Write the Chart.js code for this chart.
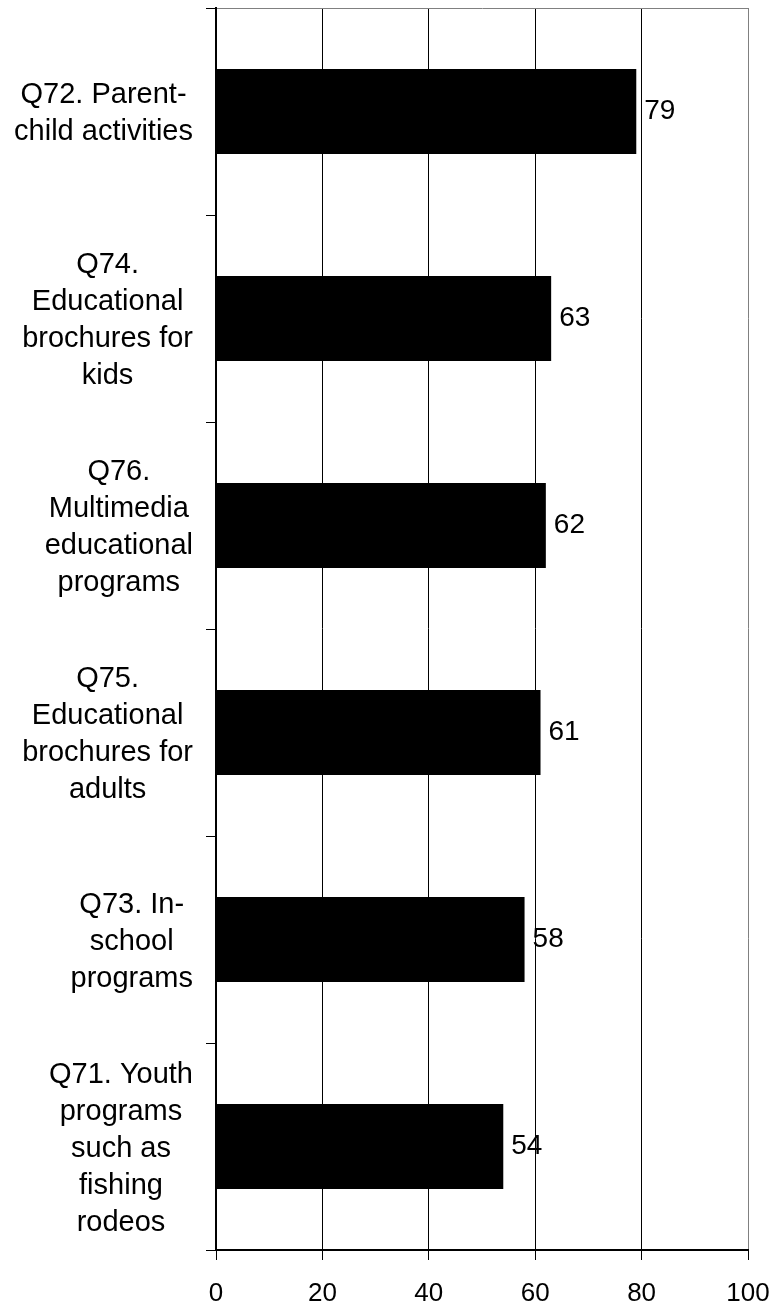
<!DOCTYPE html>
<html>
<head>
<meta charset="utf-8">
<script src="https://cdn.jsdelivr.net/npm/chart.js@4/dist/chart.umd.min.js"></script>
<style>
  html, body { margin: 0; padding: 0; background: #fff; }
  #wrap { width: 775px; height: 1306px; position: relative; }
</style>
</head>
<body>
<div id="wrap"><canvas id="chart"></canvas></div>
<script>
const categories = [
  ['Q72. Parent-', 'child activities'],
  ['Q74.', 'Educational', 'brochures for', 'kids'],
  ['Q76.', 'Multimedia', 'educational', 'programs'],
  ['Q75.', 'Educational', 'brochures for', 'adults'],
  ['Q73. In-', 'school', 'programs'],
  ['Q71. Youth', 'programs', 'such as', 'fishing', 'rodeos']
];
const values = [79, 63, 62, 61, 58, 54];
const xMin = 0;
const xMax = 100;
const xStep = 20;

const FONT = '"Liberation Sans", Arial, sans-serif';

// category labels: each block is right aligned against the axis, lines centered inside the block
const categoryLabels = {
  id: 'categoryLabels',
  afterDraw(chart) {
    const ctx = chart.ctx;
    const y = chart.scales.y;
    const lineH = 37;
    const rightEdge = y.right - 23;
    ctx.save();
    ctx.font = '29px ' + FONT;
    ctx.fillStyle = '#000';
    ctx.textAlign = 'center';
    ctx.textBaseline = 'middle';
    categories.forEach((lines, i) => {
      const widest = Math.max(...lines.map(l => ctx.measureText(l).width));
      const cx = rightEdge - widest / 2;
      const cy = y.getPixelForTick(i) + 2;
      const start = cy - (lines.length - 1) * lineH / 2;
      lines.forEach((l, j) => ctx.fillText(l, cx, start + j * lineH));
    });
    ctx.restore();
  }
};

// value printed just past the end of each bar
const barValues = {
  id: 'barValues',
  afterDatasetsDraw(chart) {
    const ctx = chart.ctx;
    const meta = chart.getDatasetMeta(0);
    ctx.save();
    ctx.font = '28px ' + FONT;
    ctx.fillStyle = '#000';
    ctx.textAlign = 'left';
    ctx.textBaseline = 'middle';
    meta.data.forEach((bar, i) => {
      ctx.fillText(String(values[i]), bar.x + 8, bar.y);
    });
    ctx.restore();
  }
};

new Chart(document.getElementById('chart'), {
  type: 'bar',
  data: {
    labels: categories,
    datasets: [{
      data: values,
      backgroundColor: '#000',
      borderWidth: 0,
      barPercentage: 0.41,
      categoryPercentage: 1
    }]
  },
  options: {
    indexAxis: 'y',
    responsive: true,
    maintainAspectRatio: false,
    animation: false,
    layout: { padding: { top: 8, right: 27, bottom: 0, left: 0 } },
    plugins: {
      legend: { display: false },
      tooltip: { enabled: false }
    },
    scales: {
      x: {
        min: xMin,
        max: xMax,
        afterFit: (scale) => {
          scale.height = 56;
          // the end labels may hang past the plot edges
          scale.paddingLeft = 0;
          scale.paddingRight = 0;
        },
        ticks: {
          stepSize: xStep,
          color: '#000',
          font: { family: FONT, size: 26 },
          padding: 18
        },
        grid: {
          color: (c) => (c.tick && c.tick.value === xMax ? '#808080' : '#000'),
          tickColor: '#000',
          lineWidth: 1,
          tickLength: 10
        },
        border: { color: '#000', width: 2 }
      },
      y: {
        afterFit: (scale) => { scale.width = 216; },
        ticks: { display: false },
        grid: {
          offset: true,
          color: (c) => (c.index === 0 ? '#808080' : 'transparent'),
          tickColor: '#000',
          lineWidth: 1,
          tickLength: 10
        },
        border: { color: '#000', width: 2 }
      }
    }
  },
  plugins: [categoryLabels, barValues]
});
</script>
</body>
</html>
